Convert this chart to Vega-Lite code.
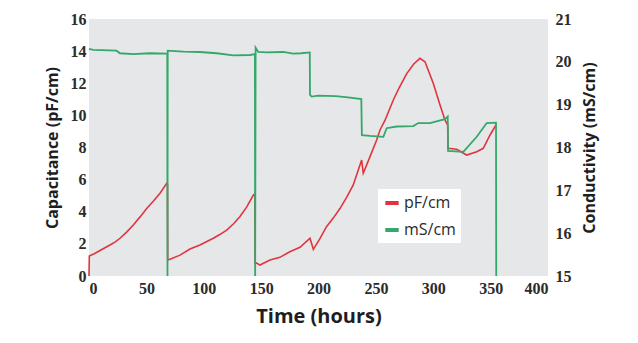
{
  "$schema": "https://vega.github.io/schema/vega-lite/v6.json",
  "width": 459,
  "height": 257,
  "autosize": {"type": "none"},
  "padding": {"left": 89, "top": 19, "right": 90, "bottom": 67},
  "background": "#ffffff",
  "config": {
    "view": {"fill": "#e6e7e9", "stroke": null},
    "axis": {
      "grid": false, "domain": false, "ticks": false,
      "labelFont": "Liberation Serif", "labelFontSize": 16, "labelFontWeight": "bold", "labelColor": "#2b2b2b",
      "titleFont": "Open Sans", "titleFontWeight": "bold", "titleColor": "#1e1e1e"
    }
  },
  "datasets": {
    "cap": [
      {"t": 0, "cap": 0}, {"t": 0.3, "cap": 1.25}, {"t": 5, "cap": 1.4}, {"t": 10, "cap": 1.6},
      {"t": 18.3, "cap": 1.93}, {"t": 23, "cap": 2.12}, {"t": 27, "cap": 2.35}, {"t": 33, "cap": 2.75}, {"t": 38.6, "cap": 3.18},
      {"t": 44.5, "cap": 3.68}, {"t": 50.3, "cap": 4.2}, {"t": 56, "cap": 4.65},
      {"t": 61.9, "cap": 5.15}, {"t": 67.7, "cap": 5.77}, {"t": 68.4, "cap": 5.7}, {"t": 68.6, "cap": 1.0},
      {"t": 70.6, "cap": 1.04}, {"t": 79.3, "cap": 1.3}, {"t": 88, "cap": 1.68}, {"t": 96.7, "cap": 1.93},
      {"t": 108.3, "cap": 2.35}, {"t": 114, "cap": 2.58}, {"t": 120, "cap": 2.86}, {"t": 126, "cap": 3.25}, {"t": 131.6, "cap": 3.7},
      {"t": 137.5, "cap": 4.3}, {"t": 143.2, "cap": 5.04},
      {"t": 144.5, "cap": 5.1}, {"t": 144.7, "cap": 0.8}, {"t": 146, "cap": 0.8}, {"t": 149, "cap": 0.68},
      {"t": 157.7, "cap": 1.0}, {"t": 166.4, "cap": 1.16}, {"t": 175, "cap": 1.51}, {"t": 183.9, "cap": 1.79},
      {"t": 192.6, "cap": 2.35}, {"t": 195.5, "cap": 1.66}, {"t": 201, "cap": 2.3}, {"t": 207, "cap": 3.07}, {"t": 213, "cap": 3.62}, {"t": 218.7, "cap": 4.2},
      {"t": 224.5, "cap": 4.9}, {"t": 230.3, "cap": 5.67}, {"t": 237.6, "cap": 7.22}, {"t": 239, "cap": 6.4}, {"t": 244.9, "cap": 7.43},
      {"t": 250.7, "cap": 8.47}, {"t": 253.6, "cap": 9.09}, {"t": 258, "cap": 9.7}, {"t": 265.2, "cap": 10.96},
      {"t": 270.5, "cap": 11.75}, {"t": 276.9, "cap": 12.6}, {"t": 283, "cap": 13.2}, {"t": 288.4, "cap": 13.55},
      {"t": 292.8, "cap": 13.34}, {"t": 300, "cap": 12.0}, {"t": 305.9, "cap": 10.65}, {"t": 310.2, "cap": 9.71},
      {"t": 312.6, "cap": 9.4}, {"t": 313, "cap": 7.95}, {"t": 320.4, "cap": 7.89}, {"t": 329.1, "cap": 7.53},
      {"t": 337.9, "cap": 7.74}, {"t": 343.6, "cap": 7.95}, {"t": 349.5, "cap": 8.78}, {"t": 354.7, "cap": 9.4}
    ],
    "cond": [
      {"t": 0, "cond": 20.3}, {"t": 3.8, "cond": 20.28}, {"t": 24, "cond": 20.26}, {"t": 27, "cond": 20.2},
      {"t": 38.6, "cond": 20.18}, {"t": 53, "cond": 20.2}, {"t": 68.2, "cond": 20.19}, {"t": 68.4, "cond": 15.0},
      {"t": 68.6, "cond": 20.26}, {"t": 82.2, "cond": 20.24}, {"t": 96.7, "cond": 20.23}, {"t": 111.3, "cond": 20.2},
      {"t": 125.7, "cond": 20.15}, {"t": 140.3, "cond": 20.16}, {"t": 144.6, "cond": 20.18}, {"t": 144.8, "cond": 15.0},
      {"t": 145.2, "cond": 20.33}, {"t": 147.5, "cond": 20.23}, {"t": 154.8, "cond": 20.22}, {"t": 169.3, "cond": 20.23},
      {"t": 178, "cond": 20.19}, {"t": 185, "cond": 20.2}, {"t": 192.4, "cond": 20.22}, {"t": 192.6, "cond": 19.23},
      {"t": 194, "cond": 19.19}, {"t": 200, "cond": 19.21}, {"t": 215, "cond": 19.2}, {"t": 225.7, "cond": 19.17},
      {"t": 237.3, "cond": 19.13}, {"t": 237.8, "cond": 18.29}, {"t": 245, "cond": 18.27}, {"t": 256.5, "cond": 18.25},
      {"t": 259.4, "cond": 18.45}, {"t": 268, "cond": 18.49}, {"t": 282.6, "cond": 18.5}, {"t": 287, "cond": 18.57},
      {"t": 297.2, "cond": 18.57}, {"t": 310.2, "cond": 18.66}, {"t": 312.6, "cond": 18.72}, {"t": 312.9, "cond": 17.92},
      {"t": 326.2, "cond": 17.9}, {"t": 337.9, "cond": 18.25}, {"t": 346.6, "cond": 18.57}, {"t": 354.7, "cond": 18.58},
      {"t": 354.9, "cond": 15.0}
    ]
  },
  "encoding": {
    "x": {"field": "t", "type": "quantitative",
      "scale": {"domain": [0, 400], "nice": false, "zero": false},
      "axis": {"values": [0, 50, 100, 150, 200, 250, 300, 350, 400], "title": "Time (hours)", "titleFontSize": 20, "labelPadding": 4, "titlePadding": 10}}
  },
  "layer": [
    {
      "data": {"name": "cap"},
      "transform": [{"calculate": "'pF/cm'", "as": "series"}],
      "mark": {"type": "line", "strokeWidth": 1.6, "interpolate": "linear"},
      "encoding": {
        "y": {"field": "cap", "type": "quantitative",
          "scale": {"domain": [0, 16], "nice": false},
          "axis": {"orient": "left", "values": [0, 2, 4, 6, 8, 10, 12, 14, 16], "title": "Capacitance (pF/cm)", "titleFontSize": 16, "labelPadding": 3, "titlePadding": 10}},
        "color": {"field": "series", "type": "nominal",
          "scale": {"domain": ["pF/cm", "mS/cm"], "range": ["#e0353f", "#33a86a"]},
          "legend": {"title": null, "orient": "none", "legendX": 289, "legendY": 170,
            "fillColor": "#ffffff", "padding": 5, "symbolType": "stroke", "symbolStrokeWidth": 4,
            "symbolSize": 180, "labelFont": "Open Sans", "labelFontSize": 16, "labelColor": "#2b2b2b",
            "labelOffset": 3, "rowPadding": 10}}
      }
    },
    {
      "data": {"name": "cond"},
      "transform": [{"calculate": "'mS/cm'", "as": "series"}],
      "mark": {"type": "line", "strokeWidth": 1.8, "interpolate": "linear"},
      "encoding": {
        "y": {"field": "cond", "type": "quantitative",
          "scale": {"domain": [15, 21], "nice": false, "zero": false},
          "axis": {"orient": "right", "values": [15, 16, 17, 18, 19, 20, 21], "title": "Conductivity (mS/cm)", "titleFontSize": 16, "titleAngle": 270, "titleBaseline": "top", "labelPadding": 7, "titlePadding": 10}},
        "color": {"field": "series", "type": "nominal"}
      }
    }
  ],
  "resolve": {"scale": {"y": "independent"}}
}
